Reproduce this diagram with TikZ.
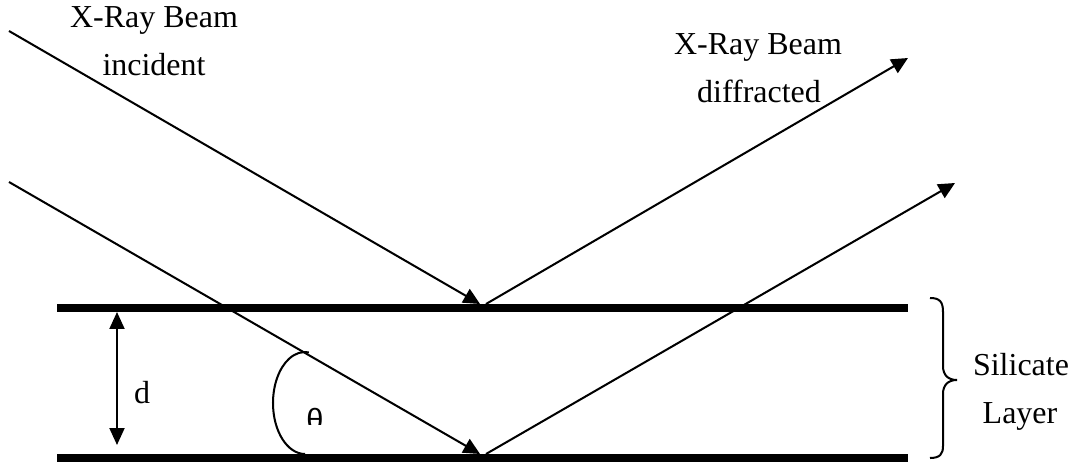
\documentclass[tikz,border=0pt]{standalone}
\usepackage{fontspec}
\setmainfont{Liberation Serif}
\newfontfamily\thetafont{Liberation Sans}
\usetikzlibrary{arrows.meta}
\begin{document}
\begin{tikzpicture}[x=0.02cm,y=-0.02cm,
  beam/.style={line width=1.15pt},
  tipend/.style={-{Triangle[length=0.33cm,width=0.31cm]}},
  dimarrow/.style={{Triangle[length=0.34cm,width=0.3cm]}-{Triangle[length=0.34cm,width=0.3cm]}},
  plate/.style={line width=4.3pt},
  lbl/.style={font=\fontsize{18.2pt}{22pt}\selectfont, inner sep=0pt, anchor=base}]
\useasboundingbox (0,0) rectangle (1075,466);
% plates
\coordinate (p1l) at (57,308); \coordinate (p1r) at (908,308);
\coordinate (p2l) at (57,458); \coordinate (p2r) at (908,458);
\draw[plate] (p1l) -- (p1r);
\draw[plate] (p2l) -- (p2r);
% beams
\coordinate (i1) at (9,31);   \coordinate (h1) at (480,304);
\coordinate (i2) at (9,182);  \coordinate (h2) at (480,454);
\coordinate (s1) at (486,304); \coordinate (e1) at (908,58);
\coordinate (s2) at (486,454); \coordinate (e2) at (955,183);
\draw[beam,tipend] (i1) -- (h1);
\draw[beam,tipend] (i2) -- (h2);
\draw[beam,tipend] (s1) -- (e1);
\draw[beam,tipend] (s2) -- (e2);
% d spacing
\coordinate (dtop) at (117,312); \coordinate (dbot) at (117,445);
\draw[beam,dimarrow] (dtop) -- (dbot);
\node[lbl] (dlbl) at (142,403) {d};
% angle arc
\coordinate (arcstart) at (305,454);
\draw[beam] (arcstart) arc[start angle=90, end angle=277, x radius=32, y radius=51];
\begin{scope}
  \clip (298,400) rectangle (336,424);
  \node[lbl, font=\thetafont\fontsize{17.5pt}{21pt}\selectfont] (theta) at (315,430) {θ};
\end{scope}
% brace
\coordinate (bt) at (930,298); \coordinate (bb) at (930,458);
\draw[beam] (bt) .. controls (940,298) and (943,302) .. (943,312) -- (943,366)
  .. controls (943,375) and (948,380) .. (957,380)
  .. controls (948,380) and (943,385) .. (943,394) -- (943,446)
  .. controls (943,454) and (940,458) .. (bb);
% labels
\node[lbl] (inc1) at (154,28) {X-Ray Beam};
\node[lbl] (inc2) at (154,76) {incident};
\node[lbl] (dif1) at (758,55) {X-Ray Beam};
\node[lbl] (dif2) at (759,103) {diffracted};
\node[lbl] (sil1) at (1021,375) {Silicate};
\node[lbl] (sil2) at (1020,423) {Layer};
\end{tikzpicture}
\end{document}
